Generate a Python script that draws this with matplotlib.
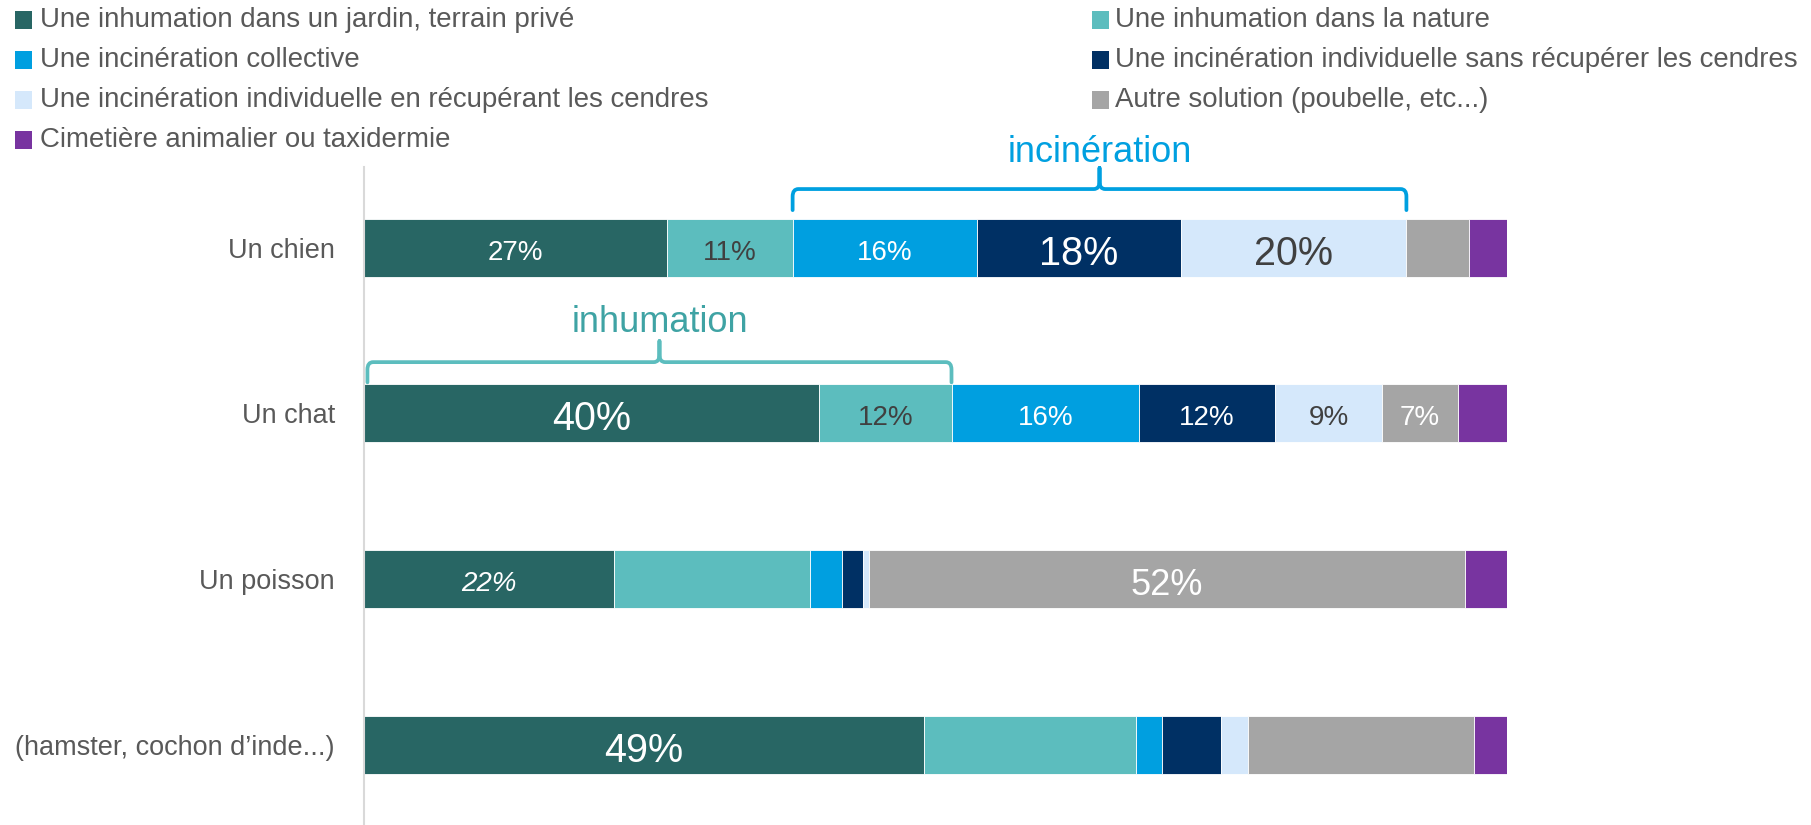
import matplotlib
matplotlib.use("Agg")
import matplotlib.pyplot as plt
from matplotlib.patches import Rectangle, PathPatch
from matplotlib.path import Path
import numpy as np

plt.rcParams['font.family'] = ['Liberation Sans', 'DejaVu Sans']

categories = ["Un chien", "Un chat", "Un poisson", "(hamster, cochon d\u2019inde...)"]
series = [
    "Une inhumation dans un jardin, terrain privé",
    "Une inhumation dans la nature",
    "Une incinération collective",
    "Une incinération individuelle sans récupérer les cendres",
    "Une incinération individuelle en récupérant les cendres",
    "Autre solution (poubelle, etc...)",
    "Cimetière animalier ou taxidermie",
]
colors = ["#286664", "#5CBDBE", "#009FE0", "#003064", "#D5E8FB", "#A5A5A5", "#7834A0"]

chien = [26.5, 11.0, 16.1, 17.9, 19.7, 5.5, 3.3]
chat = [39.8, 11.6, 16.4, 11.9, 9.4, 6.6, 4.3]
poisson = [21.9, 17.1, 2.8, 1.9, 0.5, 52.1, 3.7]
rongeur = [49.0, 18.5, 2.3, 5.2, 2.3, 19.8, 2.9]
values = [chien, chat, poisson, rongeur]

labels_chien = ["27%", "11%", "16%", "18%", "20%", "", ""]
labels_chat = ["40%", "12%", "16%", "12%", "9%", "7%", ""]
labels_poisson = ["22%", "", "", "", "", "52%", ""]
labels_rongeur = ["49%", "", "", "", "", "", ""]
labels = [labels_chien, labels_chat, labels_poisson, labels_rongeur]

dark_text_series = {1, 4}

W, H = 1811, 825
fig = plt.figure(figsize=(W / 100, H / 100), dpi=100)
ax_left = 364 / W
ax_right = 1507 / W
ax_top = 167
ax = fig.add_axes([ax_left, 0, ax_right - ax_left, (H - ax_top) / H])

y = np.arange(len(categories))
bar_h = 0.35
for ci, cat in enumerate(categories):
    left = 0.0
    for si in range(len(series)):
        v = values[ci][si]
        ax.barh(y[ci], v, left=left, height=bar_h, color=colors[si],
                edgecolor="white", linewidth=0.6)
        lab = labels[ci][si]
        if lab:
            size = 20
            if (ci, si) in {(0, 3), (0, 4), (1, 0), (3, 0)}:
                size = 28.5
            elif (ci, si) == (2, 5):
                size = 26
            col = "#404040" if si in dark_text_series else "white"
            style = "italic" if (ci, si) == (2, 0) else "normal"
            ax.text(left + v / 2, y[ci] + 0.012, lab, ha="center", va="center_baseline",
                    fontsize=size, color=col, style=style)
        left += v

ax.set_xlim(0, 100)
ax.set_ylim(3.483, -0.486)
ax.set_yticks(y)
ax.set_yticklabels(categories, fontsize=19.5, color="#595959")
ax.tick_params(axis="y", length=0, pad=21)
ax.set_xticks([])
for s in ["top", "right", "bottom"]:
    ax.spines[s].set_visible(False)
ax.spines["left"].set_color("#D9D9D9")
ax.spines["left"].set_linewidth(1.5)


def brace(x0, x1, yb, yl, yp, color):
    xm = (x0 + x1) / 2
    rx, ry = 0.5, 0.045
    verts = [
        (x0, yb), (x0, yl + ry), (x0, yl), (x0 + rx, yl),
        (xm - rx, yl), (xm, yl), (xm, yl - ry), (xm, yp),
        (xm, yl - ry), (xm, yl), (xm + rx, yl),
        (x1 - rx, yl), (x1, yl), (x1, yl + ry), (x1, yb),
    ]
    codes = [Path.MOVETO, Path.LINETO, Path.CURVE3, Path.CURVE3,
             Path.LINETO, Path.CURVE3, Path.CURVE3, Path.LINETO,
             Path.LINETO, Path.CURVE3, Path.CURVE3,
             Path.LINETO, Path.CURVE3, Path.CURVE3, Path.LINETO]
    ax.add_patch(PathPatch(Path(verts, codes), facecolor="none",
                           edgecolor=color, linewidth=2.7, clip_on=False,
                           capstyle="round", joinstyle="round"))
    return xm


# incinération brace over "Un chien" (series 2..4)
c0 = np.cumsum([0] + chien)
xm = brace(c0[2], c0[5], -0.226, -0.353, -0.48, "#00A0E0")
ax.text(xm, -0.576, "incinération", ha="center", va="center",
        fontsize=26, color="#00A0E0", clip_on=False)

# inhumation brace over "Un chat" (series 0..1)
c1 = np.cumsum([0] + chat)
xm = brace(c1[0] + 0.3, c1[2], 1 - 0.187, 1 - 0.309, 1 - 0.436, "#5CBDBE")
ax.text(xm, 1 - 0.549, "inhumation", ha="center", va="center",
        fontsize=26, color="#3FA3A4", clip_on=False)

# legend (manual, 2 columns)
col_marker_x = [15, 1092]
col_text_x = [40, 1115]
row_y = [20, 60, 100, 140]
msize = 17
for i, name in enumerate(series):
    c = i % 2
    r = i // 2
    yc = row_y[r]
    fig.patches.append(Rectangle(((col_marker_x[c]) / W, (H - yc - msize / 2) / H),
                                 msize / W, msize / H, transform=fig.transFigure,
                                 facecolor=colors[i], edgecolor="none"))
    fig.text(col_text_x[c] / W, (H - yc) / H, name, ha="left", va="center",
             fontsize=19.9, color="#595959")

fig.savefig("out.png", dpi=100)
